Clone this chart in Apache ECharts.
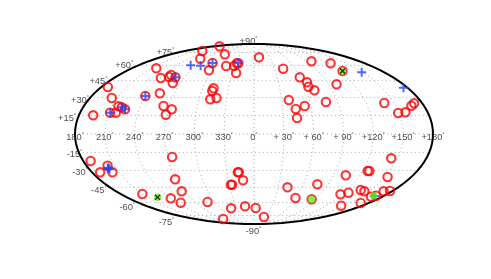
<!DOCTYPE html>
<html><head><meta charset="utf-8">
<style>html,body{margin:0;padding:0;background:#fff}#c{width:491px;height:279px}</style>
<script src="https://cdn.jsdelivr.net/npm/echarts@6/dist/echarts.min.js"></script></head>
<body><div id="c"></div>
<script>
// Marker positions in map units (x: -180..180, y: -90..90 on the projected sky map)
const redX = [-161.7,-147,-143,-144.7,-139,-136.3,-133,-129.7,-109.3,-98.3,-93.7,-94.7,-91,-82.7,-88.7,-85.3,-83.3,-79,-81.7,-54,-52,-34.7,-29.3,-45.3,-41.7,-28,-20,-17.3,-15.7,-18,-40.7,-42,-37.7,-44,
 5,29.3,57.7,77,89,46,53.3,54.7,60.7,83,35,42,51,43.3,72.3,131,145,152.3,158.3,161,
 -164.3,-154.7,-147.3,-142.3,-82.3,-79.3,-72.7,-112.3,-83.7,-73.7,-46.7,-23,-9,1.7,-31,-23.3,-22,-16.3,-15.3,-11,
 10,33.7,41.7,63.7,58,87,95,87.7,92.3,114.3,116,134.3,138,107.3,111,107.3,130.3,136.7,122.7,117.7];
const redY = [18.7,47,36,21.3,21.3,27.7,26.7,24.7,38,65.7,56,40.7,28,24.7,19.3,57,59,56.7,51,75.3,83,87.7,79.7,63.7,71,68,68,70.7,70.7,61,45.7,43,36,34.7,
 76.7,65.3,72.7,70.7,63,56.7,51.7,47.3,43.7,49.7,34,25,28,16,32,31,21,21.7,28.3,30.7,
 -27,-38.3,-31.7,-38.3,-23,-45.3,-57.3,-60,-64.3,-68.7,-68,-74.3,-72.3,-74,-85,-50.7,-50.7,-38.3,-38.3,-46.3,
 -83,-53.3,-64,-50.3,-65.3,-60.3,-58.7,-71.7,-41.3,-37,-37,-43,-24.3,-56,-57.3,-69,-57.3,-57,-61.7,-62.7];
const blueX = [-144.7,-133,-129.7,-109.3,-79,-63.7,-53.7,-41.7,-15.7,108.3,150.3,-146.3,-147,-145.3,121];
const blueY = [21.3,26.7,24.7,38,56.7,68.7,68.3,71,71.3,61.7,46.3,-33.7,-34.3,-35.3,-62];
const greenX = [89,-97,58,120.3];
const greenY = [63,-63.3,-65.3,-61.7];
const crossX = [89,-97];
const crossY = [63,-63.3];
const lonTicks = [-180,-150,-120,-90,-60,-30,0,30,60,90,120,150,180];
const lonLabels = ['180','210','240','270','300','330','0','+ 30','+ 60','+ 90','+120','+150','+180'];
const latLabels = ['+15','+30','+45','+60','+75','+90','-15','-30','-45','-60','-75','-90'];
const latLabelX = [-188,-175,-156.5,-130.5,-89,-5.5,-180.5,-175,-156,-127.5,-88,-0.5];
const latLabelY = [16,34,52.5,69,82,93,-20,-38,-56,-73,-88,-97.5];

// Mollweide projection for the frame and graticule
function moll(lon, lat){
  const phi = lat*Math.PI/180;
  let t = phi;
  if (Math.abs(lat) >= 90) t = Math.sign(lat)*Math.PI/2;
  else for (let i=0;i<60;i++){ t -= (2*t+Math.sin(2*t)-Math.PI*Math.sin(phi))/(2+2*Math.cos(2*t)); }
  return [lon*Math.cos(t), 90*Math.sin(t)];
}
function range(a,b,s){const r=[];for(let v=a;v<=b+1e-9;v+=s)r.push(v);return r;}
const dotted = {color:'#a8a8a8',width:1,type:[1,3]};
const series = [];
for (const lat of [-75,-60,-45,-30,-15,0,15,30,45,60,75]) {
  series.push({type:'line',silent:true,symbol:'none',lineStyle:dotted,z:1,
    data:range(-180,180,10).map(l=>moll(l,lat))});
}
for (const lon of [-150,-120,-90,-60,-30,0,30,60,90,120,150]) {
  series.push({type:'line',silent:true,symbol:'none',lineStyle:dotted,z:1,
    data:range(-90,90,3).map(l=>moll(lon,l))});
}
series.push({type:'line',silent:true,symbol:'none',z:5,lineStyle:{color:'#000',width:2},
  data:range(0,360,3).map(a=>[180*Math.cos(a*Math.PI/180),90*Math.sin(a*Math.PI/180)])});
const zip=(a,b)=>a.map((v,i)=>[v,b[i]]);
const PLUS='path://M-2.2,-10H2.2V-2.2H10V2.2H2.2V10H-2.2V2.2H-10V-2.2H-2.2Z';
const CROSS='path://M-10,-7L-7,-10L0,-3L7,-10L10,-7L3,0L10,7L7,10L0,3L-7,10L-10,7L-3,0Z';
series.push({type:'scatter',data:zip(redX,redY),symbol:'circle',symbolSize:8.4,z:6,silent:true,
  itemStyle:{color:'transparent',borderColor:'#ff0000',borderWidth:2.1}});
series.push({type:'scatter',data:zip(blueX,blueY),symbol:PLUS,symbolSize:9,z:7,silent:true,
  itemStyle:{color:'#2244ff'}});
series.push({type:'scatter',data:zip(greenX,greenY),symbol:'circle',symbolSize:7.5,z:8,silent:true,
  itemStyle:{color:'#66ee22'}});
series.push({type:'scatter',data:zip(crossX,crossY),symbol:CROSS,symbolSize:6,z:9,silent:true,
  itemStyle:{color:'#000'}});
const rich={s:{fontSize:5.5,color:'#222',padding:[0,0,6,0],fontFamily:'Liberation Sans'}};
const lab=(text)=>({show:true,position:'inside',formatter:text+'{s|°}',color:'#222',fontSize:9.3,fontFamily:'Liberation Sans',rich});
series.push({type:'scatter',silent:true,symbolSize:1,clip:false,z:10,itemStyle:{color:'transparent'},
  data:lonTicks.map((l,i)=>({value:[l,-3],label:lab(lonLabels[i])}))});
series.push({type:'scatter',silent:true,symbolSize:1,clip:false,z:10,itemStyle:{color:'transparent'},
  data:latLabels.map((t,i)=>({value:[latLabelX[i],latLabelY[i]],label:lab(t)}))});
const chart=echarts.init(document.getElementById('c'),null,{renderer:'canvas'});
chart.setOption({animation:false,backgroundColor:'#fff',
  grid:{left:75,right:58,top:44,bottom:55,containLabel:false},
  xAxis:{type:'value',min:-180,max:180,show:false},
  yAxis:{type:'value',min:-90,max:90,show:false},
  series});
</script></body></html>
